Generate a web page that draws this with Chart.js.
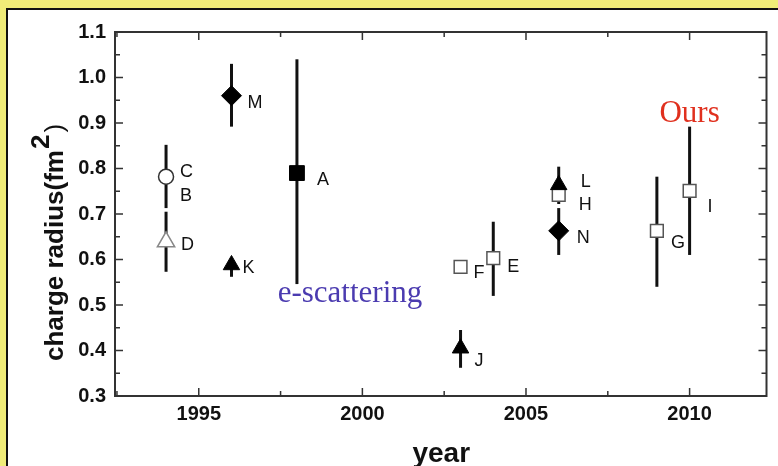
<!DOCTYPE html>
<html>
<head>
<meta charset="utf-8">
<script src="https://cdn.jsdelivr.net/npm/chart.js@4"></script>
<style>
  html, body { margin: 0; padding: 0; }
  body { width: 778px; height: 466px; position: relative; overflow: hidden; background: #f0ec78; }
  .sheet { position: absolute; left: 6px; top: 8px; width: 780px; height: 470px; background: #fff; border: 2px solid #111; }
  #chart { position: absolute; left: 0; top: 0; }
</style>
</head>
<body>
<div class="sheet"></div>
<canvas id="chart" width="778" height="466"></canvas>
<script>
// measurements, one entry per point
const names   = ['C', 'D', 'K', 'M', 'A', 'F', 'J', 'E', 'L', 'H', 'N', 'G', 'I'];
const years   = [1994, 1994, 1996, 1996, 1998, 2003, 2003, 2004, 2006, 2006, 2006, 2009, 2010];
const radii   = [0.782, 0.639, 0.588, 0.960, 0.790, 0.584, 0.405, 0.603, 0.764, 0.742, 0.663, 0.663, 0.751];
const errLow  = [0.713, 0.573, 0.562, 0.892, 0.546, 0.571, 0.362, 0.520, 0.722, 0.730, 0.610, 0.540, 0.610];
const errHigh = [0.852, 0.705, 0.590, 1.030, 1.040, 0.597, 0.445, 0.683, 0.804, 0.755, 0.713, 0.782, 0.892];

const yearTicks = [1995, 2000, 2005, 2010];
const radiusTicks = [0.3, 0.4, 0.5, 0.6, 0.7, 0.8, 0.9, 1.0, 1.1];

// marker look for each group of points
const markerSets = [
  { names: ['C'], style: 'circle', radius: 7.5, fill: '#fff', stroke: '#333', width: 1.5 },
  { names: ['D'], style: 'triangle', radius: 10, fill: '#fff', stroke: '#888', width: 1.5 },
  { names: ['K', 'J', 'L'], style: 'triangle', radius: 9.5, fill: '#000', stroke: '#000', width: 1 },
  { names: ['M', 'N'], style: 'rectRot', radius: 10, fill: '#000', stroke: '#000', width: 1 },
  { names: ['A'], style: 'rect', radius: 10.5, fill: '#000', stroke: '#000', width: 1 },
  { names: ['F', 'E', 'H', 'G', 'I'], style: 'rect', radius: 9, fill: '#fff', stroke: '#555', width: 1.5 }
];

// where each letter sits relative to its point
const labelOffsets = {
  C: [14, -5], D: [15, 3], K: [11, 3], M: [16, 7], A: [20, 7], F: [13, 6], J: [14, 13],
  E: [14, 9], L: [22, -3], H: [20, 10], N: [18, 7], G: [14, 12], I: [18, 16]
};

const sansFont = '"Liberation Sans", Arial, sans-serif';
const serifFont = '"Liberation Serif", "Times New Roman", serif';

const datasets = markerSets.map(m => ({
  data: m.names.map(n => {
    const i = names.indexOf(n);
    return { x: years[i], y: radii[i] };
  }),
  pointStyle: m.style,
  pointRadius: m.radius,
  pointHoverRadius: m.radius,
  backgroundColor: m.fill,
  borderColor: m.stroke,
  pointBorderWidth: m.width,
  showLine: false
}));

const overlay = {
  id: 'overlay',
  beforeDatasetsDraw(chart) {
    const { ctx, scales: { x, y } } = chart;
    ctx.save();
    ctx.strokeStyle = '#111';
    ctx.lineWidth = 3;
    names.forEach((n, i) => {
      const px = x.getPixelForValue(years[i]);
      ctx.beginPath();
      ctx.moveTo(px, y.getPixelForValue(errLow[i]));
      ctx.lineTo(px, y.getPixelForValue(errHigh[i]));
      ctx.stroke();
    });
    ctx.restore();
  },
  afterDatasetsDraw(chart) {
    const { ctx, scales: { x, y } } = chart;
    ctx.save();
    ctx.fillStyle = '#111';
    ctx.font = '18px ' + sansFont;
    ctx.textAlign = 'left';
    ctx.textBaseline = 'middle';
    names.forEach((n, i) => {
      const [dx, dy] = labelOffsets[n];
      ctx.fillText(n, x.getPixelForValue(years[i]) + dx, y.getPixelForValue(radii[i]) + dy);
    });
    // B shares the C/D bar
    const c = names.indexOf('C');
    ctx.fillText('B', x.getPixelForValue(years[c]) + 14, y.getPixelForValue(radii[c]) + 19);

    ctx.font = '31px ' + serifFont;
    ctx.textAlign = 'center';
    ctx.textBaseline = 'alphabetic';
    ctx.fillStyle = '#4b3bb0';
    ctx.fillText('e-scattering', x.getPixelForValue(1999.62), y.getPixelForValue(0.507));
    ctx.fillStyle = '#e0301e';
    ctx.fillText('Ours', x.getPixelForValue(2010), y.getPixelForValue(0.903));
    ctx.restore();
  },
  afterDraw(chart) {
    const { ctx, chartArea: a, scales: { x, y } } = chart;
    ctx.save();
    ctx.strokeStyle = '#333';
    ctx.lineWidth = 2;
    ctx.strokeRect(a.left, a.top, a.right - a.left, a.bottom - a.top);

    // inward ticks on all four sides
    ctx.lineWidth = 1.5;
    ctx.beginPath();
    const xMajor = x.ticks.map(t => t.value);
    const xMinor = xMajor.flatMap(v => [v - 2.5, v + 2.5]).filter(v => v > x.min && v < x.max);
    const yMajor = y.ticks.map(t => t.value);
    const yMinor = yMajor.map(v => v + 0.05).filter(v => v < y.max);
    const xt = (v, len) => {
      const p = x.getPixelForValue(v);
      ctx.moveTo(p, a.bottom); ctx.lineTo(p, a.bottom - len);
      ctx.moveTo(p, a.top); ctx.lineTo(p, a.top + len);
    };
    const yt = (v, len) => {
      const p = y.getPixelForValue(v);
      ctx.moveTo(a.left, p); ctx.lineTo(a.left + len, p);
      ctx.moveTo(a.right, p); ctx.lineTo(a.right - len, p);
    };
    xMajor.forEach(v => xt(v, 8));
    xMinor.forEach(v => xt(v, 5));
    yMajor.forEach(v => yt(v, 8));
    yMinor.forEach(v => yt(v, 5));
    ctx.stroke();

    // axis titles
    ctx.fillStyle = '#111';
    ctx.font = 'bold 28px ' + sansFont;
    ctx.textAlign = 'center';
    ctx.textBaseline = 'alphabetic';
    ctx.fillText('year', (a.left + a.right) / 2 + 0.5, 462);

    ctx.translate(63, 361);
    ctx.rotate(-Math.PI / 2);
    ctx.textAlign = 'left';
    ctx.font = 'bold 26px ' + sansFont;
    const main = 'charge radius(fm';
    ctx.fillText(main, 0, 0);
    let w = ctx.measureText(main).width;
    ctx.fillText('2', w + 1, -14);
    w += ctx.measureText('2').width + 3;
    ctx.font = '26px ' + sansFont;
    ctx.fillText(')', w, 0);
    ctx.restore();
  }
};

new Chart(document.getElementById('chart'), {
  type: 'scatter',
  data: { datasets },
  options: {
    responsive: false,
    animation: false,
    events: [],
    layout: { padding: { left: 0, top: 32, right: 10, bottom: 0 } },
    plugins: { legend: { display: false }, tooltip: { enabled: false } },
    scales: {
      x: {
        type: 'linear',
        min: 1992.44,
        max: 2012.35,
        afterBuildTicks: s => { s.ticks = yearTicks.map(v => ({ value: v })); },
        afterFit: s => { s.height = 70; },
        grid: { display: false, drawTicks: false },
        border: { display: false },
        ticks: {
          padding: 6,
          color: '#111',
          font: { family: sansFont, size: 20, weight: 'bold' },
          callback: v => String(v)
        }
      },
      y: {
        type: 'linear',
        min: 0.3,
        max: 1.1,
        afterBuildTicks: s => { s.ticks = radiusTicks.map(v => ({ value: v })); },
        afterFit: s => { s.width = 115; },
        grid: { display: false, drawTicks: false },
        border: { display: false },
        ticks: {
          padding: 9,
          color: '#111',
          font: { family: sansFont, size: 20, weight: 'bold' },
          callback: v => v.toFixed(1)
        }
      }
    }
  },
  plugins: [overlay]
});
</script>
</body>
</html>
